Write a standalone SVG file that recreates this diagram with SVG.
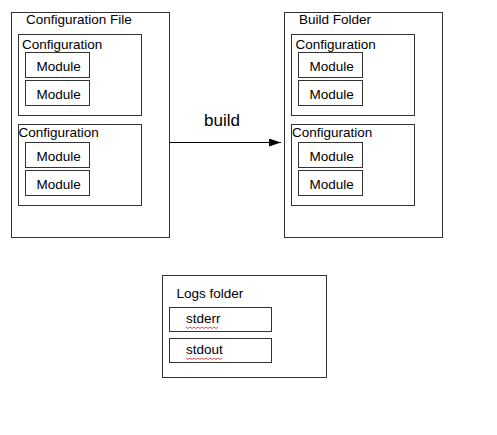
<svg xmlns="http://www.w3.org/2000/svg" width="497" height="435" viewBox="0 0 497 435">
<defs>
<style>
.box{fill:#fff;stroke:#333;stroke-width:1}
.t{font-family:"Liberation Sans",Arial,sans-serif;font-size:13.5px;fill:#000}
.tb{font-family:"Liberation Sans",Arial,sans-serif;font-size:17px;fill:#000}
.sq{fill:none;stroke:#e02020;stroke-width:0.8}
</style>
<marker id="ah" markerWidth="12" markerHeight="8" refX="12" refY="4" orient="auto" markerUnits="userSpaceOnUse">
<path d="M0,0 L12,4 L0,8 Z" fill="#000"/>
</marker>
</defs>
<rect width="497" height="435" fill="#fff"/>
<g id="config-file">
<rect class="box" x="11.5" y="12.5" width="158" height="225"/>
<text class="t" x="26" y="24">Configuration File</text>
<g id="cf-config1">
<rect class="box" x="18.5" y="34.5" width="123" height="81"/>
<text class="t" x="22" y="49">Configuration</text>
<rect class="box" x="25.5" y="52.5" width="64" height="25"/>
<text class="t" x="36.5" y="71">Module</text>
<rect class="box" x="25.5" y="80.5" width="64" height="25"/>
<text class="t" x="36.5" y="99">Module</text>
</g>
<g id="cf-config2">
<rect class="box" x="18.5" y="124.5" width="123" height="81"/>
<text class="t" x="18.5" y="137">Configuration</text>
<rect class="box" x="25.5" y="142.5" width="64" height="25"/>
<text class="t" x="36.5" y="161">Module</text>
<rect class="box" x="25.5" y="170.5" width="64" height="25"/>
<text class="t" x="36.5" y="189">Module</text>
</g>
</g>
<g id="build-folder">
<rect class="box" x="284.5" y="12.5" width="158" height="225"/>
<text class="t" x="299" y="24">Build Folder</text>
<g id="bf-config1">
<rect class="box" x="291.5" y="34.5" width="123" height="81"/>
<text class="t" x="295.5" y="49">Configuration</text>
<rect class="box" x="298.5" y="52.5" width="64" height="25"/>
<text class="t" x="309.5" y="71">Module</text>
<rect class="box" x="298.5" y="80.5" width="64" height="25"/>
<text class="t" x="309.5" y="99">Module</text>
</g>
<g id="bf-config2">
<rect class="box" x="291.5" y="124.5" width="123" height="81"/>
<text class="t" x="292" y="137">Configuration</text>
<rect class="box" x="298.5" y="142.5" width="64" height="25"/>
<text class="t" x="309.5" y="161">Module</text>
<rect class="box" x="298.5" y="170.5" width="64" height="25"/>
<text class="t" x="309.5" y="189">Module</text>
</g>
</g>
<g id="logs-folder">
<rect class="box" x="162.5" y="275.5" width="164" height="102"/>
<text class="t" x="176.5" y="298">Logs folder</text>
<rect class="box" x="169.5" y="307.5" width="102" height="24"/>
<text class="t" x="186" y="323">stderr</text>
<path class="sq" d="M186,327 l2,1.5 l2,-1.5 l2,1.5 l2,-1.5 l2,1.5 l2,-1.5 l2,1.5 l2,-1.5 l2,1.5 l2,-1.5 l2,1.5 l2,-1.5 l2,1.5 l2,-1.5 l2,1.5 l2,-1.5"/>
<rect class="box" x="169.5" y="338.5" width="102" height="24"/>
<text class="t" x="186" y="354">stdout</text>
<path class="sq" d="M186,358 l2,1.5 l2,-1.5 l2,1.5 l2,-1.5 l2,1.5 l2,-1.5 l2,1.5 l2,-1.5 l2,1.5 l2,-1.5 l2,1.5 l2,-1.5 l2,1.5 l2,-1.5 l2,1.5 l2,-1.5 l2,1.5 l2,-1.5"/>
</g>
<g id="connectors">
<line x1="169.5" y1="142.5" x2="281" y2="142.5" stroke="#000" stroke-width="1" marker-end="url(#ah)"/>
<text class="tb" x="204" y="126">build</text>
</g>
</svg>
